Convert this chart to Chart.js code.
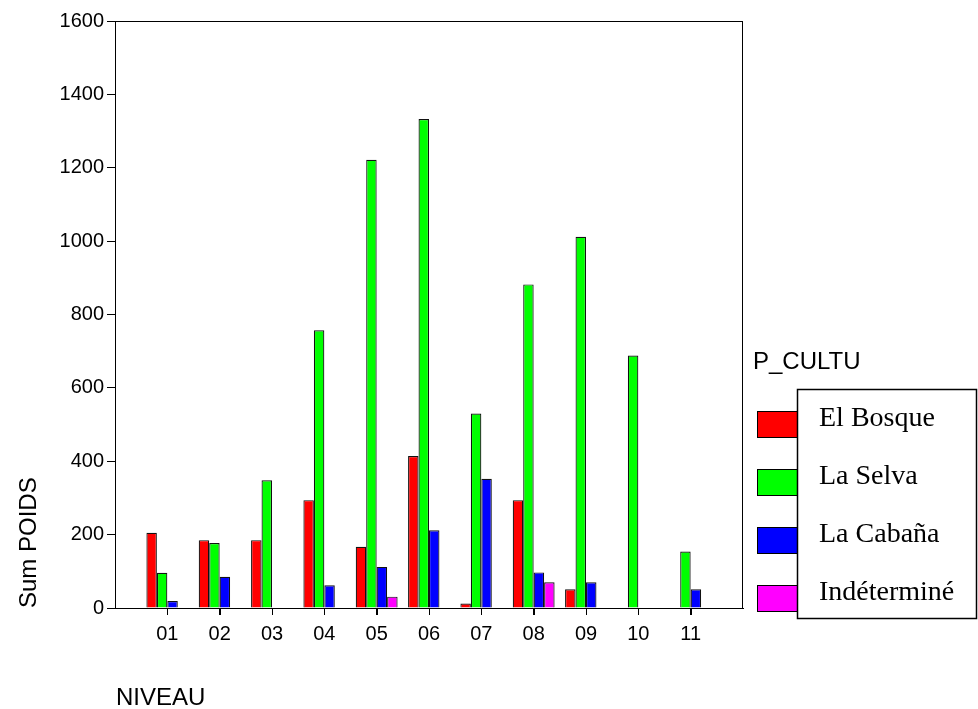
<!DOCTYPE html>
<html>
<head>
<meta charset="utf-8">
<script src="https://cdn.jsdelivr.net/npm/chart.js@4"></script>
<style>
  html, body { margin: 0; padding: 0; background: #fff; }
  #wrap { width: 978px; height: 709px; }
</style>
</head>
<body>
<div id="wrap"><canvas id="chart" width="978" height="709"></canvas></div>
<script>
// values
const niveaux = ['01', '02', '03', '04', '05', '06', '07', '08', '09', '10', '11'];
const elBosque = [205, 185, 185, 294, 167, 414, 12, 294, 51, null, null];
const laSelva = [96, 177, 348, 757, 1222, 1333, 530, 882, 1012, 688, 154];
const laCabana = [19, 85, null, 62, 112, 212, 352, 97, 70, null, 51];
const indetermine = [null, null, null, null, 31, null, null, 70, null, null, null];

const seriesNames = ['El Bosque', 'La Selva', 'La Cabaña', 'Indéterminé'];
const seriesColors = ['#ff0000', '#00ff00', '#0000ff', '#ff00ff'];
const yTicks = [0, 200, 400, 600, 800, 1000, 1200, 1400, 1600];

const toPoints = arr => arr.map((v, i) => ({ x: i + 1, y: v }));

const datasets = [elBosque, laSelva, laCabana, indetermine].map((arr, i) => ({
    label: seriesNames[i],
    data: toPoints(arr),
    backgroundColor: seriesColors[i],
    borderColor: '#111',
    borderWidth: 1.2,
    categoryPercentage: 0.8,
    barPercentage: 1.0
}));

const sansFont = '"Liberation Sans", Arial, sans-serif';
const serifFont = '"Liberation Serif", "Times New Roman", serif';

// frame, axis titles and the SPSS-style legend
const decorations = {
    id: 'decorations',
    afterDraw(chart) {
        const ctx = chart.ctx;
        const a = chart.chartArea;
        const xs = chart.scales.x;
        ctx.save();
        ctx.strokeStyle = '#000';
        ctx.lineWidth = 1;
        ctx.strokeRect(a.left + 0.5, a.top + 0.5, a.right - a.left - 1, a.bottom - a.top);

        // category tick marks under the x axis
        ctx.beginPath();
        xs.ticks.forEach(t => {
            const px = Math.round(xs.getPixelForValue(t.value)) + 0.5;
            ctx.moveTo(px, a.bottom);
            ctx.lineTo(px, a.bottom + 7);
        });
        ctx.stroke();

        ctx.fillStyle = '#000';
        ctx.font = '24px ' + sansFont;
        ctx.textBaseline = 'alphabetic';
        ctx.textAlign = 'left';
        ctx.fillText('NIVEAU', 116, 705);

        ctx.save();
        ctx.translate(36, a.bottom);
        ctx.rotate(-Math.PI / 2);
        ctx.fillText('Sum POIDS', 0, 0);
        ctx.restore();

        ctx.fillText('P_CULTU', 753, 369);

        // swatches sit behind the label box
        seriesColors.forEach((c, i) => {
            const y = 411 + i * 58;
            ctx.fillStyle = c;
            ctx.fillRect(757, y, 40, 26);
            ctx.strokeStyle = '#000';
            ctx.strokeRect(757.5, y + 0.5, 40, 26);
        });

        ctx.fillStyle = '#fff';
        ctx.fillRect(797, 389, 181, 229);
        ctx.strokeStyle = '#000';
        ctx.lineWidth = 1.5;
        ctx.strokeRect(797.5, 389.5, 179, 229);

        ctx.fillStyle = '#000';
        ctx.font = '28px ' + serifFont;
        seriesNames.forEach((n, i) => {
            ctx.fillText(n, 819, 426 + i * 58);
        });
        ctx.restore();
    }
};

new Chart(document.getElementById('chart'), {
    type: 'bar',
    data: { datasets: datasets },
    options: {
        responsive: false,
        animation: false,
        layout: { padding: { top: 21, right: 235, left: 0, bottom: 0 } },
        plugins: {
            legend: { display: false },
            tooltip: { enabled: false }
        },
        scales: {
            x: {
                type: 'linear',
                min: 0,
                max: 12,
                offset: false,
                afterFit: s => { s.height = 101; },
                afterBuildTicks: s => {
                    s.ticks = niveaux.map((n, i) => ({ value: i + 1 }));
                },
                ticks: {
                    autoSkip: false,
                    maxRotation: 0,
                    padding: 7,
                    color: '#000',
                    font: { family: sansFont, size: 20 },
                    callback: v => niveaux[v - 1]
                },
                grid: {
                    offset: false,
                    drawOnChartArea: false,
                    drawTicks: true,
                    tickLength: 7,
                    tickColor: '#000'
                },
                border: { display: true, color: '#000', width: 1 }
            },
            y: {
                min: 0,
                max: 1600,
                afterFit: s => { s.width = 115; },
                afterBuildTicks: s => {
                    s.ticks = yTicks.map(v => ({ value: v }));
                },
                ticks: {
                    padding: 3,
                    color: '#000',
                    font: { family: sansFont, size: 20 },
                    callback: v => String(v)
                },
                grid: {
                    drawOnChartArea: false,
                    drawTicks: true,
                    tickLength: 8,
                    tickColor: '#000'
                },
                border: { display: true, color: '#000', width: 1 }
            }
        }
    },
    plugins: [decorations]
});
</script>
</body>
</html>
